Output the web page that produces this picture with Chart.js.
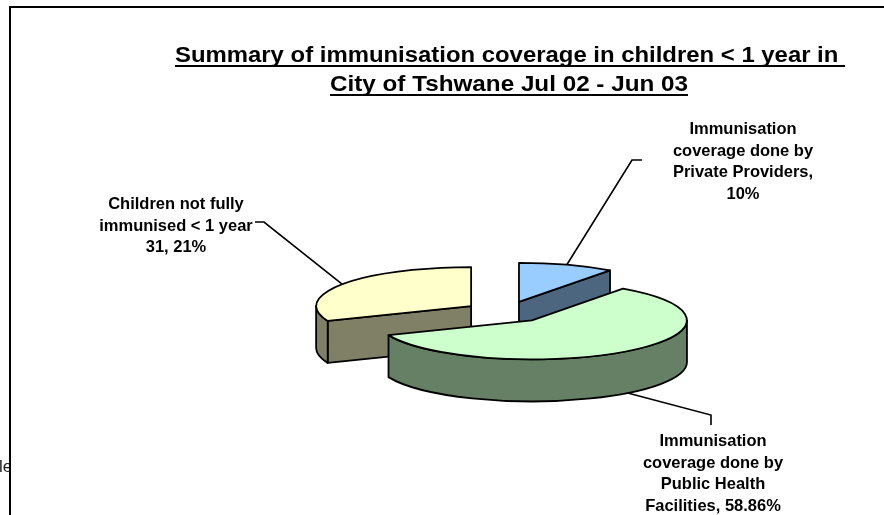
<!DOCTYPE html>
<html>
<head>
<meta charset="utf-8">
<script src="https://cdn.jsdelivr.net/npm/chart.js@4.4.0/dist/chart.umd.min.js"></script>
<style>
body { margin: 0; background: #fff; }
</style>
</head>
<body>
<canvas id="myChart" width="884" height="515"></canvas>
<script>
/* data */
let categories = [
    'Immunisation coverage done by Private Providers',
    'Immunisation coverage done by Public Health Facilities',
    'Children not fully immunised < 1 year'
];
let shares = [10, 58.86, 31.21];
let labelLines = [
    ['Immunisation', 'coverage done by', 'Private Providers,', '10%'],
    ['Immunisation', 'coverage done by', 'Public Health', 'Facilities, 58.86%'],
    ['Children not fully', 'immunised < 1 year', '31, 21%']
];
let titleLines = [
    'Summary of immunisation coverage in children < 1 year in ',
    'City of Tshwane Jul 02 - Jun 03'
];
let topColors = ['#99CCFF', '#CCFFCC', '#FFFFCC'];
let sideColors = ['#4D6680', '#668066', '#808066'];

/* layout of the data labels: centre x, first baseline, leader elbow and end */
let labelLayout = [
    {x: 743, y: 134, elbow: [632, 160], end: [642, 160]},
    {x: 713, y: 446, elbow: [711, 415], end: [711, 425]},
    {x: 176, y: 209, elbow: [264, 222], end: [255, 222]}
];

const TILT = 0.252;
const DEPTH = 42;

function sliceGeom(a){
    const m = (a.startAngle + a.endAngle) / 2;
    const off = a.options.offset;
    const rx = a.outerRadius;
    return {
        x: a.x + Math.cos(m) * off,
        y: a.y + Math.sin(m) * off * TILT,
        rx: rx, ry: rx * TILT, s: a.startAngle, e: a.endAngle, m: m
    };
}

/* draws the pie as a tilted 3D pie from the arc elements chart.js laid out */
const pie3d = {
    id: 'pie3d',
    beforeDatasetsDraw(chart){
        const ctx = chart.ctx;
        const arcs = chart.getDatasetMeta(0).data;
        let order = arcs.map((a, i) => i);
        order.sort((i, j) => Math.sin(sliceGeom(arcs[i]).m) - Math.sin(sliceGeom(arcs[j]).m));
        ctx.save();
        ctx.lineWidth = 1.8;
        ctx.strokeStyle = '#000';
        ctx.lineJoin = 'round';
        order.forEach(i => {
            const g = sliceGeom(arcs[i]);
            const wall = t => {
                const px = g.x + g.rx * Math.cos(t), py = g.y + g.ry * Math.sin(t);
                ctx.beginPath();
                ctx.moveTo(g.x, g.y);
                ctx.lineTo(px, py);
                ctx.lineTo(px, py + DEPTH);
                ctx.lineTo(g.x, g.y + DEPTH);
                ctx.closePath();
                ctx.fillStyle = sideColors[i];
                ctx.fill();
                ctx.stroke();
            };
            if (Math.cos(g.s) < -1e-6) wall(g.s);
            if (Math.cos(g.e) > 1e-6) wall(g.e);
            // curved outer wall, only the front half shows
            const a1 = Math.max(g.s, 0), a2 = Math.min(g.e, Math.PI);
            if (a1 < a2){
                ctx.beginPath();
                ctx.ellipse(g.x, g.y, g.rx, g.ry, 0, a1, a2);
                ctx.lineTo(g.x + g.rx * Math.cos(a2), g.y + g.ry * Math.sin(a2) + DEPTH);
                ctx.ellipse(g.x, g.y + DEPTH, g.rx, g.ry, 0, a2, a1, true);
                ctx.closePath();
                ctx.fillStyle = sideColors[i];
                ctx.fill();
                ctx.stroke();
            }
            // top face
            ctx.beginPath();
            ctx.moveTo(g.x, g.y);
            ctx.ellipse(g.x, g.y, g.rx, g.ry, 0, g.s, g.e);
            ctx.closePath();
            ctx.fillStyle = topColors[i];
            ctx.fill();
            ctx.stroke();
        });
        ctx.restore();
        return false;
    },
    afterDraw(chart){
        const ctx = chart.ctx;
        const arcs = chart.getDatasetMeta(0).data;
        ctx.save();
        ctx.fillStyle = '#000';
        ctx.strokeStyle = '#000';

        // title, underlined
        ctx.font = 'bold 22px "Liberation Sans", Arial, sans-serif';
        ctx.textAlign = 'left';
        ctx.textBaseline = 'alphabetic';
        const titleY = [62, 91];
        const titleW = [670, 358];
        const titleX = [510, 509];
        titleLines.forEach((t, k) => {
            const w = ctx.measureText(t).width;
            const sx = titleW[k] / w;
            ctx.save();
            ctx.translate(titleX[k] - titleW[k] / 2, titleY[k]);
            ctx.scale(sx, 1);
            ctx.fillText(t, 0, 0);
            ctx.restore();
            ctx.fillRect(titleX[k] - titleW[k] / 2, titleY[k] + 3, titleW[k], 2);
        });

        // data labels with leader lines
        ctx.font = 'bold 17px "Liberation Sans", Arial, sans-serif';
        ctx.textAlign = 'center';
        labelLines.forEach((lines, i) => {
            const L = labelLayout[i];
            lines.forEach((t, k) => {
                ctx.save();
                ctx.translate(L.x, L.y + k * 21.5);
                ctx.scale(0.97, 1);
                ctx.fillText(t, 0, 0);
                ctx.restore();
            });
            const g = sliceGeom(arcs[i]);
            let px = g.x + g.rx * Math.cos(g.m);
            let py = g.y + g.ry * Math.sin(g.m);
            if (Math.sin(g.m) > 0) py += DEPTH;
            ctx.lineWidth = 1.6;
            ctx.beginPath();
            ctx.moveTo(px, py);
            ctx.lineTo(L.elbow[0], L.elbow[1]);
            ctx.lineTo(L.end[0], L.end[1]);
            ctx.stroke();
        });

        // cut off text behind the frame on the left
        ctx.save();
        ctx.beginPath();
        ctx.rect(0, 0, 9, 515);
        ctx.clip();
        ctx.font = '17px "Liberation Sans", Arial, sans-serif';
        ctx.textAlign = 'left';
        ctx.fillStyle = '#222';
        ctx.fillText('le', -1, 472);
        ctx.restore();

        // chart frame
        ctx.fillStyle = '#000';
        ctx.fillRect(9, 6, 884 - 9, 2);
        ctx.fillRect(9, 6, 2, 515);
        ctx.restore();
    }
};

let data = {
    labels: categories,
    datasets: [{
        data: shares,
        backgroundColor: topColors,
        offset: 42,
        borderWidth: 0
    }]
};

let config = {
    type: 'pie',
    data: data,
    options: {
        responsive: false,
        animation: false,
        radius: 155,
        layout: {padding: {left: 128, top: 109, right: 0, bottom: 0}},
        plugins: {
            legend: {display: false},
            title: {display: false},
            tooltip: {enabled: false}
        }
    },
    plugins: [pie3d]
};

let myChart = new Chart(document.getElementById('myChart').getContext('2d'), config);
</script>
</body>
</html>
